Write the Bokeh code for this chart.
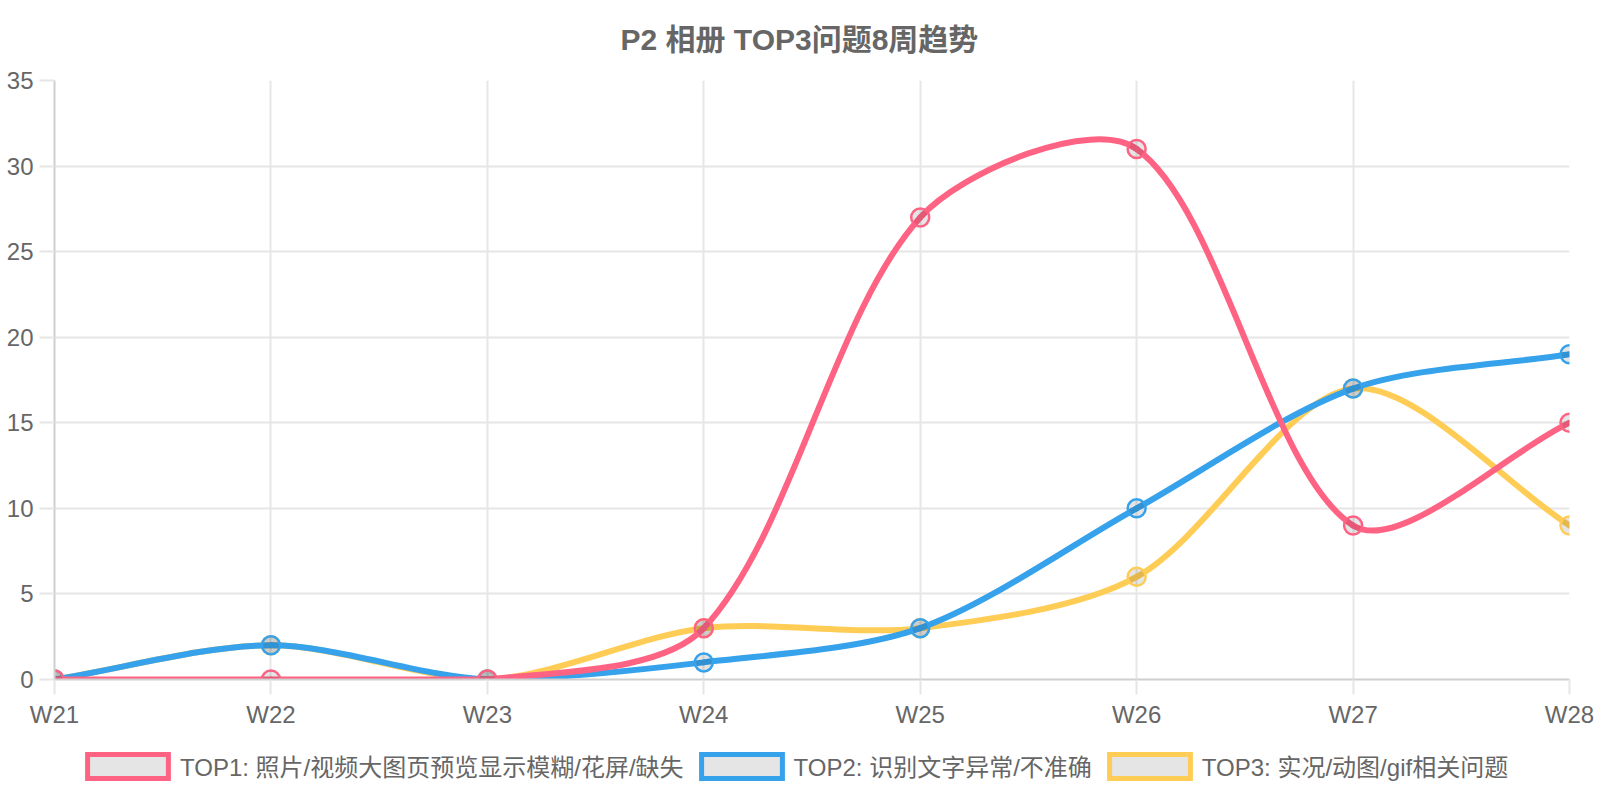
import math
from bokeh.plotting import figure
from bokeh.layouts import column
from bokeh.models import Range1d, FixedTicker, ColumnDataSource, Legend, LegendItem
from bokeh.embed import file_html
from bokeh.resources import INLINE

# ---- data ----
weeks = ["W21", "W22", "W23", "W24", "W25", "W26", "W27", "W28"]
top1 = [0, 0, 0, 3, 27, 31, 9, 15]
top2 = [0, 2, 0, 1, 3, 10, 17, 19]
top3 = [0, 2, 0, 3, 3, 6, 17, 9]
names = [
    "TOP1: 照片/视频大图页预览显示模糊/花屏/缺失",
    "TOP2: 识别文字异常/不准确",
    "TOP3: 实况/动图/gif相关问题",
]
colors = ["#ff6384", "#36a2eb", "#ffcd56"]
title_text = "P2 相册 TOP3问题8周趋势"
y_ticks = [0, 5, 10, 15, 20, 25, 30, 35]

FONT = "'Liberation Sans', 'Noto Sans CJK SC', sans-serif"
TXT = "#666666"
W = 1600
H1, H2 = 740, 60
BL, BR, BT, BB = 54, 31, 78, 61
FW, FH = W - BL - BR, H1 - BT - BB
YMAX = 35
NX = len(weeks) - 1
TENSION = 0.3

sx = FW / NX
sy = FH / YMAX


def spline_segments(vals):
    """Chart.js-style spline control points computed in pixel space."""
    n = len(vals)
    px = [i * sx for i in range(n)]
    py = [v * sy for v in vals]
    cp_prev, cp_next = [], []
    clamp = lambda v, lo, hi: max(lo, min(hi, v))
    for i in range(n):
        a = i - 1 if i > 0 else i
        b = i + 1 if i < n - 1 else i
        d01 = math.hypot(px[i] - px[a], py[i] - py[a])
        d12 = math.hypot(px[b] - px[i], py[b] - py[i])
        tot = d01 + d12
        s01 = d01 / tot if tot else 0.0
        s12 = d12 / tot if tot else 0.0
        fa, fb = TENSION * s01, TENSION * s12
        cpx0 = px[i] - fa * (px[b] - px[a])
        cpy0 = py[i] - fa * (py[b] - py[a])
        cpx1 = px[i] + fb * (px[b] - px[a])
        cpy1 = py[i] + fb * (py[b] - py[a])
        cp_prev.append((clamp(cpx0 / sx, 0, NX), clamp(cpy0 / sy, 0, YMAX)))
        cp_next.append((clamp(cpx1 / sx, 0, NX), clamp(cpy1 / sy, 0, YMAX)))
    d = dict(x0=[], y0=[], x1=[], y1=[], cx0=[], cy0=[], cx1=[], cy1=[])
    for i in range(n - 1):
        d["x0"].append(i); d["y0"].append(vals[i])
        d["x1"].append(i + 1); d["y1"].append(vals[i + 1])
        d["cx0"].append(cp_next[i][0]); d["cy0"].append(cp_next[i][1])
        d["cx1"].append(cp_prev[i + 1][0]); d["cy1"].append(cp_prev[i + 1][1])
    return ColumnDataSource(d)


fig = figure(
    width=W, height=H1,
    x_range=Range1d(0, NX), y_range=Range1d(0, YMAX),
    output_backend="svg", toolbar_location=None,
    min_border_left=BL, min_border_right=BR, min_border_top=BT, min_border_bottom=BB,
    background_fill_color="white", border_fill_color="white",
    outline_line_color=None,
)

fig.title.text = title_text
fig.title.align = "left"
fig.title.offset = 566
fig.title.vertical_align = "top"
fig.title.text_font = FONT
fig.title.text_font_size = "30px"
fig.title.text_font_style = "bold"
fig.title.text_color = TXT
fig.title.standoff = 45

# axes
fig.xaxis.ticker = FixedTicker(ticks=list(range(len(weeks))))
fig.xaxis.major_label_overrides = {i: w for i, w in enumerate(weeks)}
fig.yaxis.ticker = FixedTicker(ticks=y_ticks)
for ax in (fig.xaxis, fig.yaxis):
    ax.axis_line_color = "#cfcfcf"
    ax.axis_line_width = 2
    ax.major_tick_line_color = "#e6e6e6"
    ax.major_tick_line_width = 2
    ax.major_tick_in = 0
    ax.minor_tick_line_color = None
    ax.major_label_text_font = FONT
    ax.major_label_text_font_size = "24px"
    ax.major_label_text_color = TXT
fig.yaxis.major_tick_out = 15
fig.yaxis.major_label_standoff = 6
fig.xaxis.major_tick_out = 15
fig.xaxis.major_label_standoff = 6

fig.xgrid.ticker = FixedTicker(ticks=list(range(len(weeks))))
fig.ygrid.ticker = FixedTicker(ticks=y_ticks)
for g in (fig.xgrid, fig.ygrid):
    g.grid_line_color = "#e6e6e6"
    g.grid_line_width = 2

series = [top1, top2, top3]
xs = list(range(len(weeks)))
# draw last dataset first so TOP1 is on top (Chart.js order)
for idx in (2, 1, 0):
    vals = series[idx]
    col = colors[idx]
    src = spline_segments(vals)
    fig.bezier(x0="x0", y0="y0", x1="x1", y1="y1", cx0="cx0", cy0="cy0",
               cx1="cx1", cy1="cy1", source=src, line_color=col, line_width=6,
               line_cap="round")
    fig.scatter(xs, vals, size=18, marker="circle", fill_color="black",
                fill_alpha=0.1, line_color=col, line_width=2.5)

# ---- legend strip ----
leg = figure(
    width=W, height=H2, x_range=Range1d(0, 1), y_range=Range1d(0, 1),
    output_backend="svg", toolbar_location=None,
    x_axis_type=None, y_axis_type=None,
    min_border=0, outline_line_color=None,
    background_fill_color="white", border_fill_color="white",
)
leg.xgrid.visible = False
leg.ygrid.visible = False
legend_items = []
for idx in range(3):
    # hidden proxy renderer: only its legend swatch is shown
    proxy = leg.quad(left=[0], right=[1], top=[1], bottom=[0], fill_color="black",
                     fill_alpha=0.1, line_color=colors[idx], line_width=5,
                     line_join="miter")
    proxy.visible = False
    legend_items.append(LegendItem(label=names[idx], renderers=[proxy]))

legend = Legend(
    items=legend_items, orientation="horizontal", location=(23, 17),
    glyph_width=101, glyph_height=30, label_standoff=2, spacing=7,
    padding=0, margin=0,
    label_text_font=FONT, label_text_font_size="24px", label_text_color=TXT,
    border_line_color=None, background_fill_alpha=0,
    inactive_fill_alpha=0,
)
leg.add_layout(legend, "center")

p = column(fig, leg, spacing=0)

open("out.html", "w").write(file_html(p, INLINE))
